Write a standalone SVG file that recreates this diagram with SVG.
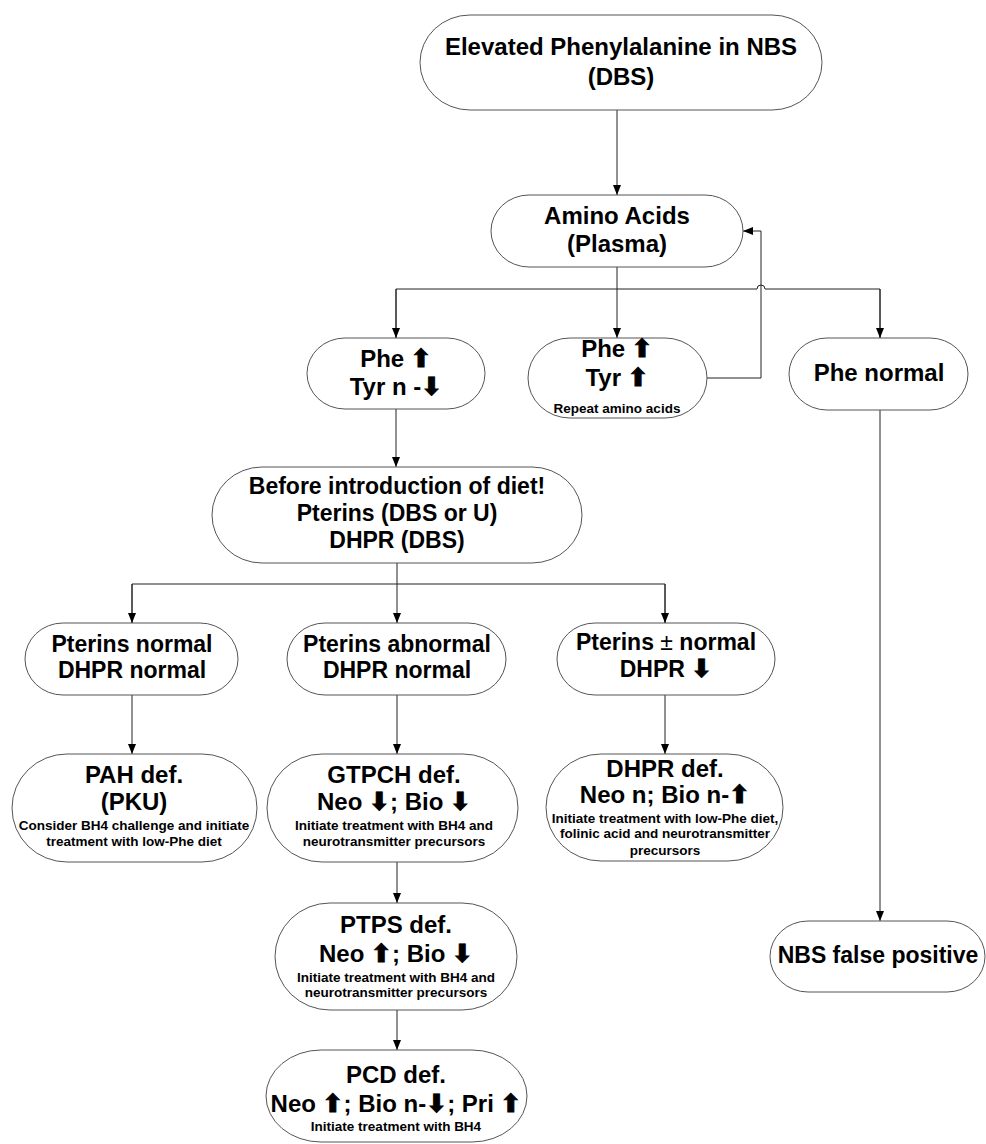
<svg xmlns="http://www.w3.org/2000/svg" width="986" height="1144" viewBox="0 0 986 1144">
<style>
.n{fill:#fff;stroke:#555;stroke-width:1}
.t{font-family:"Liberation Sans",Arial,sans-serif;font-weight:bold;font-size:23px;text-anchor:middle;fill:#000}
.b{font-size:24px}
.s{font-size:13.5px}
.ar{font-family:"DejaVu Sans","Noto Sans",sans-serif;font-size:25px;stroke:#000;stroke-width:0.8}
.pm{font-weight:normal}
.c{fill:none;stroke:#222;stroke-width:1}
</style>
<defs>
<marker id="ah" markerUnits="userSpaceOnUse" markerWidth="10" markerHeight="10" viewBox="0 0 10 10" refX="10" refY="5" orient="auto">
<path d="M0,1 L10,5 L0,9 Z" fill="#000"/>
</marker>
</defs>
<rect width="986" height="1144" fill="#fff"/>
<g id="connectors">
<path class="c" d="M617,110 V195" marker-end="url(#ah)"/>
<path class="c" d="M617,267 V338" marker-end="url(#ah)"/>
<path class="c" d="M396,338 V289 H757 A4,4 0 0 1 765,289 H880 V338" />
<path class="c" d="M396,289 V338" marker-end="url(#ah)"/>
<path class="c" d="M880,289 V338" marker-end="url(#ah)"/>
<path class="c" d="M707,378 H761 V231 H743" marker-end="url(#ah)"/>
<path class="c" d="M396,409 V467" marker-end="url(#ah)"/>
<path class="c" d="M397,563 V623" marker-end="url(#ah)"/>
<path class="c" d="M132,623 V584 H665 V623"/>
<path class="c" d="M132,584 V623" marker-end="url(#ah)"/>
<path class="c" d="M665,584 V623" marker-end="url(#ah)"/>
<path class="c" d="M132,695 V754" marker-end="url(#ah)"/>
<path class="c" d="M397,695 V754" marker-end="url(#ah)"/>
<path class="c" d="M665,695 V754" marker-end="url(#ah)"/>
<path class="c" d="M397,862 V903" marker-end="url(#ah)"/>
<path class="c" d="M397,1010 V1050" marker-end="url(#ah)"/>
<path class="c" d="M880,410 V921" marker-end="url(#ah)"/>
</g>
<g id="n-elevated">
<rect class="n" x="420" y="15" width="402" height="95" rx="50" ry="47.5"/>
<text class="t b" x="621" y="55">Elevated Phenylalanine in NBS</text>
<text class="t b" x="621" y="85">(DBS)</text>
</g>
<g id="n-amino">
<rect class="n" x="491" y="195" width="252" height="72" rx="38" ry="36"/>
<text class="t b" x="617" y="224">Amino Acids</text>
<text class="t b" x="617" y="252">(Plasma)</text>
</g>
<g id="n-phe1">
<rect class="n" x="307" y="338" width="178" height="71" rx="38" ry="35.5"/>
<text class="t b" x="396" y="367">Phe <tspan class="ar">⬆</tspan></text>
<text class="t b" x="396" y="395">Tyr n -<tspan class="ar">⬇</tspan></text>
</g>
<g id="n-phe2">
<rect class="n" x="528" y="338" width="179" height="80" rx="42" ry="40"/>
<text class="t b" x="617" y="357">Phe <tspan class="ar">⬆</tspan></text>
<text class="t b" x="617" y="386">Tyr <tspan class="ar">⬆</tspan></text>
<text class="t s" x="617" y="413">Repeat amino acids</text>
</g>
<g id="n-phenormal">
<rect class="n" x="789" y="338" width="179" height="72" rx="38" ry="36"/>
<text class="t b" x="879" y="381">Phe normal</text>
</g>
<g id="n-before">
<rect class="n" x="212" y="467" width="370" height="96" rx="50" ry="48"/>
<text class="t" x="397" y="494">Before introduction of diet!</text>
<text class="t" x="397" y="521">Pterins (DBS or U)</text>
<text class="t" x="397" y="548">DHPR (DBS)</text>
</g>
<g id="n-ptn">
<rect class="n" x="25" y="623" width="213" height="72" rx="38" ry="36"/>
<text class="t" x="132" y="652">Pterins normal</text>
<text class="t" x="132" y="678">DHPR normal</text>
</g>
<g id="n-pta">
<rect class="n" x="287" y="623" width="219" height="72" rx="38" ry="36"/>
<text class="t" x="397" y="652">Pterins abnormal</text>
<text class="t" x="397" y="678">DHPR normal</text>
</g>
<g id="n-ptpm">
<rect class="n" x="557" y="623" width="218" height="72" rx="38" ry="36"/>
<text class="t" x="666" y="650">Pterins <tspan class="pm">±</tspan> normal</text>
<text class="t" x="666" y="677">DHPR <tspan class="ar">⬇</tspan></text>
</g>
<g id="n-pah">
<rect class="n" x="12" y="754" width="245" height="108" rx="55" ry="54"/>
<text class="t b" x="134" y="783">PAH def.</text>
<text class="t b" x="134" y="810">(PKU)</text>
<text class="t s" x="134" y="830">Consider BH4 challenge and initiate</text>
<text class="t s" x="134" y="846">treatment with low-Phe diet</text>
</g>
<g id="n-gtpch">
<rect class="n" x="267" y="754" width="251" height="108" rx="55" ry="54"/>
<text class="t b" x="394" y="783">GTPCH def.</text>
<text class="t b" x="394" y="810">Neo <tspan class="ar">⬇</tspan>; Bio <tspan class="ar">⬇</tspan></text>
<text class="t s" x="394" y="830">Initiate treatment with BH4 and</text>
<text class="t s" x="394" y="846">neurotransmitter precursors</text>
</g>
<g id="n-dhpr">
<rect class="n" x="546" y="754" width="237" height="107" rx="55" ry="53.5"/>
<text class="t b" x="665" y="777">DHPR def.</text>
<text class="t b" x="665" y="803">Neo n; Bio n-<tspan class="ar">⬆</tspan></text>
<text class="t s" x="665" y="823">Initiate treatment with low-Phe diet,</text>
<text class="t s" x="665" y="838">folinic acid and neurotransmitter</text>
<text class="t s" x="665" y="855">precursors</text>
</g>
<g id="n-ptps">
<rect class="n" x="275" y="903" width="242" height="107" rx="55" ry="53.5"/>
<text class="t b" x="396" y="933">PTPS def.</text>
<text class="t b" x="396" y="962">Neo <tspan class="ar">⬆</tspan>; Bio <tspan class="ar">⬇</tspan></text>
<text class="t s" x="396" y="982">Initiate treatment with BH4 and</text>
<text class="t s" x="396" y="997">neurotransmitter precursors</text>
</g>
<g id="n-pcd">
<rect class="n" x="266" y="1050" width="261" height="92" rx="55" ry="46"/>
<text class="t b" x="396" y="1083">PCD def.</text>
<text class="t b" x="396" y="1112">Neo <tspan class="ar">⬆</tspan>; Bio n-<tspan class="ar">⬇</tspan>; Pri <tspan class="ar">⬆</tspan></text>
<text class="t s" x="396" y="1131">Initiate treatment with BH4</text>
</g>
<g id="n-nbs">
<rect class="n" x="770" y="921" width="215" height="71" rx="38" ry="35.5"/>
<text class="t" x="878" y="963">NBS false positive</text>
</g>
</svg>
